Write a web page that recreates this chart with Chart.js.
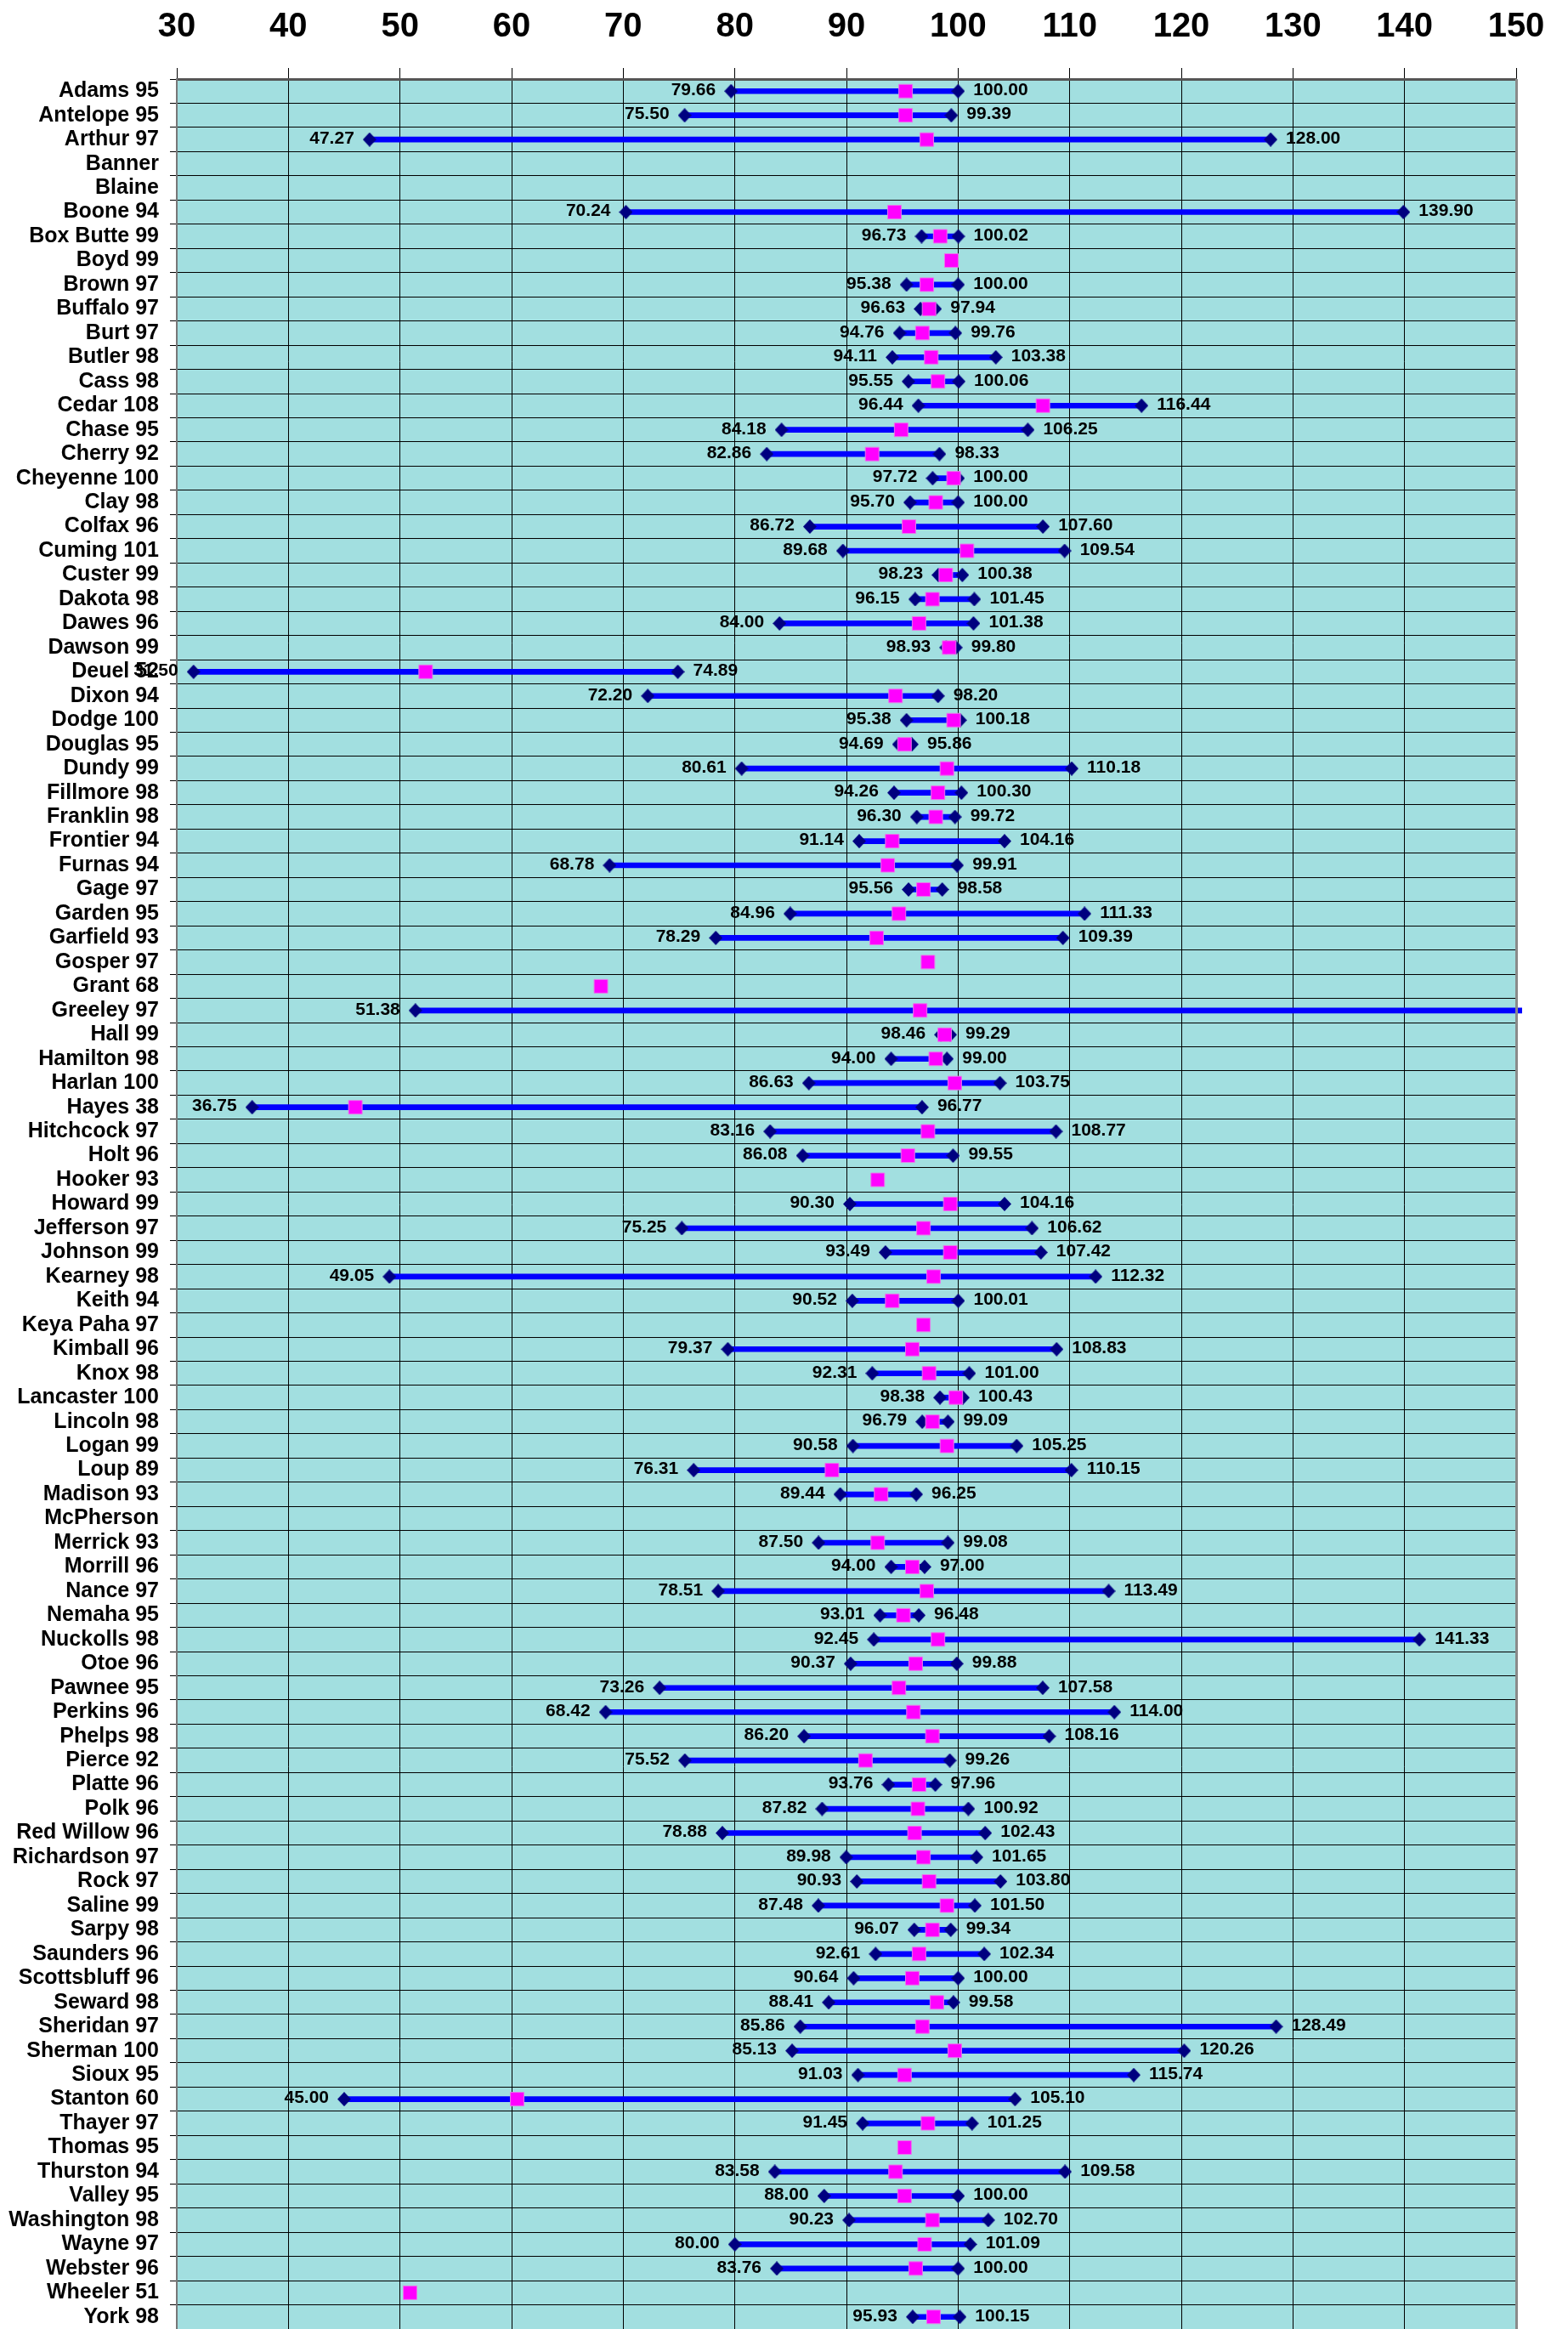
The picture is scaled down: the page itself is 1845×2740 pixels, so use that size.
<!DOCTYPE html>
<html><head><meta charset="utf-8">
<script src="https://cdn.jsdelivr.net/npm/chart.js@4.4.1/dist/chart.umd.min.js"></script>
<style>html,body{margin:0;padding:0;background:#fff;}</style>
</head><body>
<canvas id="c" width="1845" height="2740"></canvas>
<script>
const counties = ["Adams 95","Antelope 95","Arthur 97","Banner","Blaine","Boone 94","Box Butte 99","Boyd 99","Brown 97","Buffalo 97","Burt 97","Butler 98","Cass 98","Cedar 108","Chase 95","Cherry 92","Cheyenne 100","Clay 98","Colfax 96","Cuming 101","Custer 99","Dakota 98","Dawes 96","Dawson 99","Deuel 52","Dixon 94","Dodge 100","Douglas 95","Dundy 99","Fillmore 98","Franklin 98","Frontier 94","Furnas 94","Gage 97","Garden 95","Garfield 93","Gosper 97","Grant 68","Greeley 97","Hall 99","Hamilton 98","Harlan 100","Hayes 38","Hitchcock 97","Holt 96","Hooker 93","Howard 99","Jefferson 97","Johnson 99","Kearney 98","Keith 94","Keya Paha 97","Kimball 96","Knox 98","Lancaster 100","Lincoln 98","Logan 99","Loup 89","Madison 93","McPherson","Merrick 93","Morrill 96","Nance 97","Nemaha 95","Nuckolls 98","Otoe 96","Pawnee 95","Perkins 96","Phelps 98","Pierce 92","Platte 96","Polk 96","Red Willow 96","Richardson 97","Rock 97","Saline 99","Sarpy 98","Saunders 96","Scottsbluff 96","Seward 98","Sheridan 97","Sherman 100","Sioux 95","Stanton 60","Thayer 97","Thomas 95","Thurston 94","Valley 95","Washington 98","Wayne 97","Webster 96","Wheeler 51","York 98"];

const medians = [95.3,95.3,97.2,null,null,94.3,98.4,99.4,97.2,97.4,96.8,97.6,98.2,107.6,94.9,92.3,99.6,98.0,95.6,100.8,98.9,97.7,96.5,99.2,52.3,94.4,99.6,95.2,99.0,98.2,98.0,94.1,93.7,96.9,94.7,92.7,97.3,68.0,96.6,98.8,98.0,99.7,46.0,97.3,95.5,92.8,99.3,96.9,99.3,97.8,94.1,96.9,95.9,97.4,99.8,97.7,99.0,88.7,93.1,null,92.8,95.9,97.2,95.1,98.2,96.2,94.7,96.0,97.7,91.7,96.5,96.4,96.1,96.9,97.4,99.0,97.7,96.5,95.9,98.1,96.8,99.7,95.2,60.5,97.3,95.2,94.4,95.2,97.7,97.0,96.2,50.9,97.8];

const mins = [79.66,75.50,47.27,null,null,70.24,96.73,null,95.38,96.63,94.76,94.11,95.55,96.44,84.18,82.86,97.72,95.70,86.72,89.68,98.23,96.15,84.00,98.93,31.50,72.20,95.38,94.69,80.61,94.26,96.30,91.14,68.78,95.56,84.96,78.29,null,null,51.38,98.46,94.00,86.63,36.75,83.16,86.08,null,90.30,75.25,93.49,49.05,90.52,null,79.37,92.31,98.38,96.79,90.58,76.31,89.44,null,87.50,94.00,78.51,93.01,92.45,90.37,73.26,68.42,86.20,75.52,93.76,87.82,78.88,89.98,90.93,87.48,96.07,92.61,90.64,88.41,85.86,85.13,91.03,45.00,91.45,null,83.58,88.00,90.23,80.00,83.76,null,95.93];

const maxs = [100.00,99.39,128.00,null,null,139.90,100.02,null,100.00,97.94,99.76,103.38,100.06,116.44,106.25,98.33,100.00,100.00,107.60,109.54,100.38,101.45,101.38,99.80,74.89,98.20,100.18,95.86,110.18,100.30,99.72,104.16,99.91,98.58,111.33,109.39,null,null,175.00,99.29,99.00,103.75,96.77,108.77,99.55,null,104.16,106.62,107.42,112.32,100.01,null,108.83,101.00,100.43,99.09,105.25,110.15,96.25,null,99.08,97.00,113.49,96.48,141.33,99.88,107.58,114.00,108.16,99.26,97.96,100.92,102.43,101.65,103.80,101.50,99.34,102.34,100.00,99.58,128.49,120.26,115.74,105.10,101.25,null,109.58,100.00,102.70,101.09,100.00,null,100.15];

const xTickValues = [30,40,50,60,70,80,90,100,110,120,130,140,150];

const FONT = "'Liberation Sans', Arial, Helvetica, sans-serif";

// diamond point image
function makeDiamond(w, h, color) {
  const c = document.createElement('canvas');
  c.width = w; c.height = h;
  const g = c.getContext('2d');
  g.fillStyle = color;
  g.beginPath();
  g.moveTo(w/2, 0); g.lineTo(w, h/2); g.lineTo(w/2, h); g.lineTo(0, h/2); g.closePath();
  g.fill();
  return c;
}
const diamond = makeDiamond(16, 17, '#000080');

const bgPlugin = {
  id: 'bg',
  beforeDraw(chart) {
    const {ctx, chartArea: a} = chart;
    ctx.save();
    ctx.fillStyle = '#a2dfe0';
    ctx.fillRect(a.left, a.top, a.right - a.left, a.bottom - a.top);
    ctx.restore();
  },
  afterDraw(chart) {
    const {ctx, chartArea: a} = chart;
    ctx.save();
    ctx.strokeStyle = '#8a8a8a';
    ctx.lineWidth = 3;
    ctx.beginPath();
    ctx.moveTo(a.right + 0.5, a.top);
    ctx.lineTo(a.right + 0.5, a.bottom);
    ctx.stroke();
    ctx.restore();
  }
};

const labelPlugin = {
  id: 'vlabels',
  afterDatasetsDraw(chart) {
    const {ctx} = chart;
    const xs = chart.scales.x, ys = chart.scales.y;
    ctx.save();
    ctx.font = "bold 21px " + FONT;
    ctx.fillStyle = '#000';
    ctx.textBaseline = 'middle';
    for (let i = 0; i < counties.length; i++) {
      const y = ys.getPixelForValue(i) - 1;
      if (mins[i] != null && mins[i] >= xs.min && mins[i] <= xs.max) {
        ctx.textAlign = 'right';
        ctx.fillText(mins[i].toFixed(2), xs.getPixelForValue(mins[i]) - 18, y);
      }
      if (maxs[i] != null && maxs[i] >= xs.min && maxs[i] <= xs.max) {
        ctx.textAlign = 'left';
        ctx.fillText(maxs[i].toFixed(2), xs.getPixelForValue(maxs[i]) + 18, y);
      }
    }
    ctx.restore();
  }
};

new Chart(document.getElementById('c'), {
  type: 'bar',
  data: {
    labels: counties,
    datasets: [
      {
        type: 'line', indexAxis: 'y', label: 'median',
        data: medians, showLine: false,
        pointStyle: 'rect', pointRadius: 11.3, pointHoverRadius: 11.3,
        pointBackgroundColor: '#ff00ff', pointBorderColor: '#e878e8', pointBorderWidth: 1,
        order: 1
      },
      {
        type: 'line', indexAxis: 'y', label: 'min',
        data: mins, showLine: false,
        pointStyle: diamond, pointRadius: 8,
        order: 2
      },
      {
        type: 'line', indexAxis: 'y', label: 'max',
        data: maxs, showLine: false,
        pointStyle: diamond, pointRadius: 8,
        order: 3
      },
      {
        type: 'bar', label: 'range',
        data: mins.map((m, i) => (m == null || maxs[i] == null) ? null : [m, maxs[i]]),
        backgroundColor: '#0000ff', borderWidth: 0, barThickness: 6,
        clip: {left: 0, top: 0, right: 7, bottom: 0},
        order: 4
      }
    ]
  },
  options: {
    indexAxis: 'y',
    responsive: false,
    animation: false,
    events: [],
    layout: {autoPadding: false, padding: {top: 0, left: 0, right: 61, bottom: 0}},
    plugins: {legend: {display: false}, tooltip: {enabled: false}},
    scales: {
      x: {
        type: 'linear', position: 'top', min: 30, max: 150,
        afterBuildTicks: (s) => { s.ticks = xTickValues.map(v => ({value: v})); },
        afterFit: (s) => { s.height = 93; s.paddingLeft = 0; s.paddingRight = 0; },
        ticks: {font: {family: FONT, size: 40, weight: 'bold'}, color: '#000', padding: 24},
        grid: {color: '#000', lineWidth: 1, tickLength: 13, drawOnChartArea: true},
        border: {color: '#555', width: 3}
      },
      y: {
        type: 'category', offset: true,
        afterFit: (s) => { s.width = 208; s.paddingTop = 0; s.paddingBottom = 0; },
        ticks: {font: {family: FONT, size: 25, weight: 'bold'}, color: '#000', padding: 13, autoSkip: false},
        grid: {color: '#000', lineWidth: 1, tickLength: 8, offset: true},
        border: {color: '#777', width: 2}
      }
    }
  },
  plugins: [bgPlugin, labelPlugin]
});
</script>
</body></html>
